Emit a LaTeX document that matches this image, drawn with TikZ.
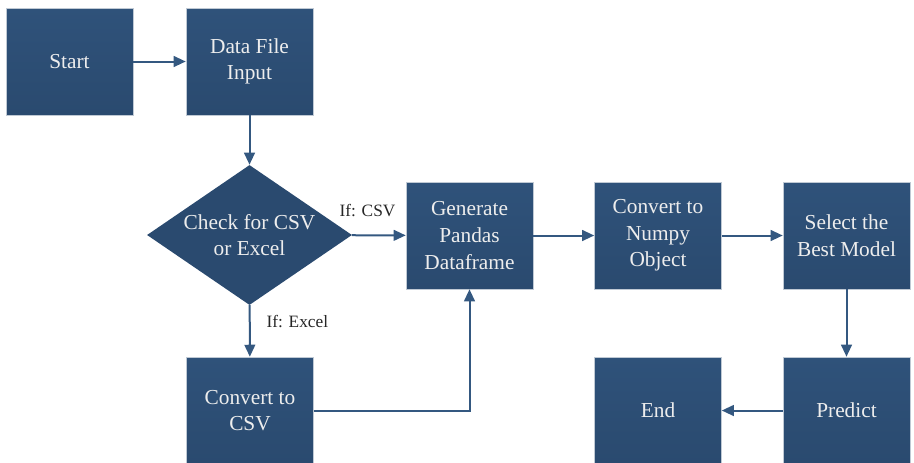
\documentclass[tikz,border=0pt]{standalone}
\usepackage{fontspec}
\setmainfont{Liberation Serif}
\usetikzlibrary{shapes.geometric,arrows.meta}

\definecolor{boxblue}{RGB}{42,74,111}
\definecolor{boxtop}{RGB}{47,82,122}
\definecolor{lineblue}{RGB}{52,88,128}

\begin{document}
\begin{tikzpicture}[x=0.75pt,y=0.75pt,yscale=-1,xscale=1,
	block/.style={rectangle,draw=boxblue!30,line width=0.4pt,top color=boxtop,bottom color=boxblue,
		minimum width=95.25pt,minimum height=80.25pt,inner sep=2pt,align=center,text=white!93!black,
		font=\fontsize{16}{20}\selectfont},
	decision/.style={diamond,fill=boxblue,minimum width=153.75pt,minimum height=105pt,aspect=1.46,
		inner sep=0pt,align=center,text=white!93!black,font=\fontsize{16}{20}\selectfont},
	flow/.style={draw=lineblue,line width=1.5pt,-{Triangle[length=9pt,width=8pt]}},
	cond/.style={font=\fontsize{13}{16}\selectfont,text=black!85}]
	%set diagram size to the reference
	\useasboundingbox (0,0) rectangle (914,462);
	
	% top row
	\node [block] (start) at (69.5,61.5) {Start};
	\node [block] (input) at (249.5,61.5) {Data File\\Input};
	
	% middle row
	\node [decision] (check) at (249.5,235) {Check for CSV\\or Excel};
	\node [block] (pandas) at (469.5,235.5) {Generate\\Pandas\\Dataframe};
	\node [block] (numpy) at (658,235.5) {Convert to\\Numpy\\Object};
	\node [block] (model) at (846.5,235.5) {Select the\\Best Model};
	
	% bottom row
	\node [block] (csv) at (250,410.5) {Convert to\\CSV};
	\node [block] (end) at (658,410.5) {End};
	\node [block] (predict) at (846.5,410.5) {Predict};
	
	% connectors
	\draw [flow] (start) -- (input);
	\draw [flow] (input) -- (check);
	\draw [flow] (check) -- (pandas);
	\draw [flow] (check) -- (csv);
	\draw [flow] (csv.east) -| (pandas.south);
	\draw [flow] (pandas) -- (numpy);
	\draw [flow] (numpy) -- (model);
	\draw [flow] (model) -- (predict);
	\draw [flow] (predict) -- (end);
	
	% branch labels
	\node [cond,anchor=south west,inner sep=1pt] (ifcsv) at (338,218) {If: CSV};
	\node [cond,anchor=west,inner sep=1pt] (ifexcel) at (265,322) {If: Excel};
\end{tikzpicture}
\end{document}
